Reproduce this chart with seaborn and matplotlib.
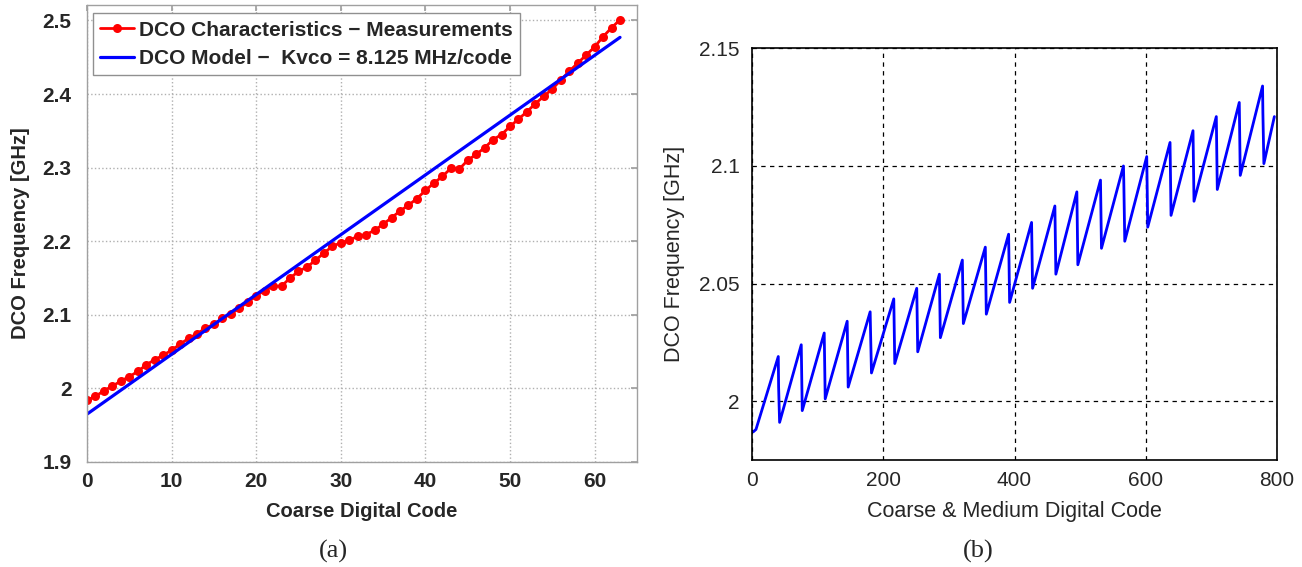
import numpy as np
import pandas as pd
import matplotlib
matplotlib.use("Agg")
import matplotlib.pyplot as plt
import seaborn as sns

# ---------------- data: panel (a) ----------------
coarse_code = list(range(64))
meas_freq = [1.984, 1.989, 1.997, 2.003, 2.010, 2.016, 2.023, 2.032, 2.039, 2.045,
             2.052, 2.060, 2.068, 2.074, 2.082, 2.087, 2.095, 2.101, 2.109, 2.117,
             2.126, 2.133, 2.139, 2.139, 2.150, 2.159, 2.165, 2.174, 2.184, 2.193,
             2.198, 2.201, 2.207, 2.209, 2.215, 2.223, 2.232, 2.241, 2.249, 2.258,
             2.269, 2.279, 2.288, 2.299, 2.298, 2.310, 2.318, 2.327, 2.338, 2.345,
             2.356, 2.366, 2.376, 2.387, 2.397, 2.407, 2.419, 2.431, 2.442, 2.453,
             2.464, 2.478, 2.490, 2.501]
model_code = [0, 63]
model_freq = [1.965, 2.477]
label_meas = "DCO Characteristics \u2212 Measurements"
label_model = "DCO Model \u2212  Kvco = 8.125 MHz/code"

# ---------------- data: panel (b) (sawtooth vertices) ----------------
cm_code = [2, 6, 40, 40.5, 42, 75, 76.5, 110, 111.5, 145, 146.5, 180, 180.5, 182,
           216, 217.5, 251, 252.5, 285.5, 287, 320.5, 322, 355.5, 357, 391, 392.5,
           426, 427.5, 461.5, 463, 495, 496.5, 531, 532.5, 566, 566.5, 568, 601.5,
           603, 637, 638.5, 672, 673.5, 707.5, 709, 742.5, 744, 778, 778.5, 780, 796]
cm_freq = [1.987, 1.988, 2.019, 2.006, 1.991, 2.024, 1.996, 2.029, 2.001, 2.034,
           2.006, 2.038, 2.031, 2.012, 2.0435, 2.016, 2.048, 2.021, 2.054, 2.027,
           2.060, 2.033, 2.0655, 2.037, 2.071, 2.042, 2.076, 2.048, 2.083, 2.054,
           2.089, 2.058, 2.094, 2.065, 2.100, 2.094, 2.068, 2.104, 2.074, 2.110,
           2.079, 2.115, 2.085, 2.121, 2.090, 2.127, 2.096, 2.134, 2.1225, 2.101,
           2.121]

a_xticks = [0, 10, 20, 30, 40, 50, 60]
a_yticks = [1.9, 2.0, 2.1, 2.2, 2.3, 2.4, 2.5]
a_yticklabels = ["1.9", "2", "2.1", "2.2", "2.3", "2.4", "2.5"]
b_xticks = [0, 200, 400, 600, 800]
b_yticks = [2.0, 2.05, 2.1, 2.15]
b_yticklabels = ["2", "2.05", "2.1", "2.15"]

sns.set_theme(style="white")
plt.rcParams["font.family"] = ["Liberation Sans", "DejaVu Sans"]

fig = plt.figure(figsize=(13.02, 5.67), dpi=100)
axa = fig.add_axes([0.0668, 0.1852, 0.4224, 0.806])
axb = fig.add_axes([0.5776, 0.1887, 0.4032, 0.726])

# ---- panel (a) ----
sns.lineplot(x=coarse_code, y=meas_freq, ax=axa, color="#ff0000", marker="o",
             markersize=6.5, markeredgewidth=0, linewidth=2.0, label=label_meas,
             estimator=None, sort=False)
sns.lineplot(x=model_code, y=model_freq, ax=axa, color="#0000ff", linewidth=2.3,
             label=label_model, estimator=None, sort=False)
axa.set_xlim(0, 65)
axa.set_ylim(1.9, 2.521)
axa.set_xticks(a_xticks)
axa.set_yticks(a_yticks)
axa.set_yticklabels(a_yticklabels)
axa.grid(True, linestyle=":", color="#b0b0b0", linewidth=1.0)
for s in axa.spines.values():
    s.set_color("#a0a0a0")
    s.set_linewidth(1.0)
axa.tick_params(direction="in", top=True, right=True, length=4, color="#a0a0a0",
                labelsize=15)
axa.tick_params(axis="x", pad=7)
axa.tick_params(axis="y", pad=11)
for lab in axa.get_xticklabels() + axa.get_yticklabels():
    lab.set_fontweight("bold")
axa.set_xlabel("Coarse Digital Code", fontsize=14.5, fontweight="bold", labelpad=8)
axa.set_ylabel("DCO Frequency [GHz]", fontsize=14.5, fontweight="bold", labelpad=9)
leg = axa.legend(loc="upper left", bbox_to_anchor=(0.011, 0.982), borderaxespad=0,
                 prop={"size": 15, "weight": "bold"}, fancybox=False,
                 edgecolor="#909090", framealpha=1, handlelength=1.6,
                 handletextpad=0.25, borderpad=0.35, labelspacing=0.45)
leg.get_frame().set_linewidth(1.0)

# ---- panel (b) ----
sns.lineplot(x=cm_code, y=cm_freq, ax=axb, color="#0000ff", linewidth=2.0,
             estimator=None, sort=False)
axb.set_xlim(0, 800)
axb.set_ylim(1.975, 2.15)
axb.set_xticks(b_xticks)
axb.set_yticks(b_yticks)
axb.set_yticklabels(b_yticklabels)
axb.grid(True, linestyle=(0, (3.5, 3.5)), color="#000000", linewidth=0.9)
for s in axb.spines.values():
    s.set_color("#000000")
    s.set_linewidth(1.2)
axb.tick_params(direction="in", length=0, labelsize=15)
axb.tick_params(axis="x", pad=8)
axb.tick_params(axis="y", pad=9)
axb.set_xlabel("Coarse & Medium Digital Code", fontsize=15.5, labelpad=8)
axb.set_ylabel("DCO Frequency [GHz]", fontsize=15.5, labelpad=10)

# captions
fig.text(0.256, 0.028, "(a)", fontsize=19, family=["Liberation Serif"],
         ha="center", va="center")
fig.text(0.751, 0.028, "(b)", fontsize=19, family=["Liberation Serif"],
         ha="center", va="center")

fig.savefig("out.png", dpi=100)
